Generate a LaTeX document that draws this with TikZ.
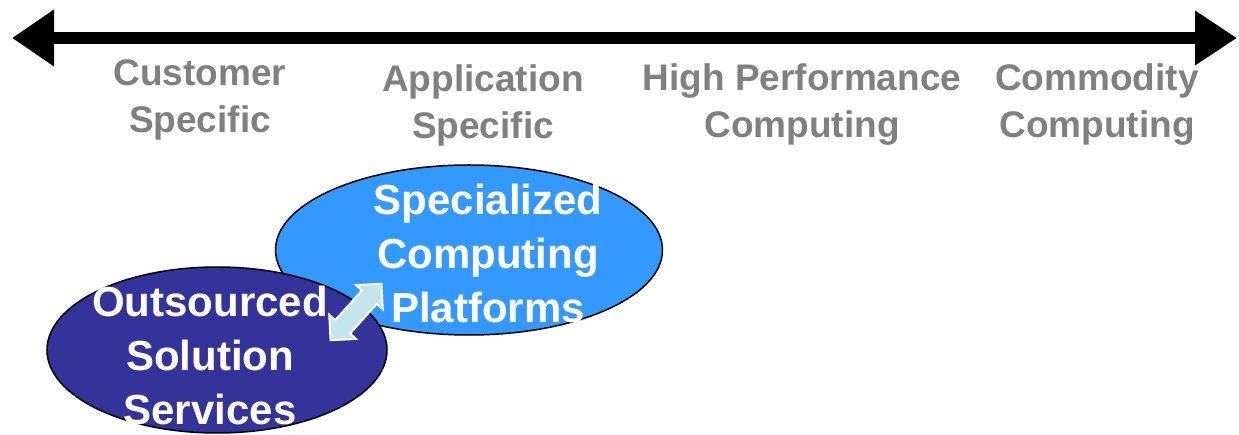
\documentclass[tikz,border=0pt]{standalone}
\usepackage{fontspec}
\setmainfont{Liberation Sans}
\usetikzlibrary{arrows.meta,shapes.geometric,shapes.arrows}
\definecolor{lblue}{HTML}{3399FF}
\definecolor{dblue}{HTML}{333399}
\definecolor{lgray}{HTML}{808080}
\definecolor{pale}{HTML}{C4E4EE}
\tikzset{
  axislabel/.style={text=lgray, font=\fontsize{37}{47}\selectfont\bfseries, align=center},
  bubbletext/.style={text=white, font=\fontsize{42}{54}\selectfont\bfseries, align=center},
  bubble/.style={ellipse, draw=black, line width=1.5pt, inner sep=0pt},
}
\begin{document}
\begin{tikzpicture}[x=1pt,y=-1pt]
\useasboundingbox (0,0) rectangle (1239,435);
\coordinate (L) at (12,38);
\coordinate (R) at (1237,38);
\draw[line width=12pt, {Triangle[length=42pt,width=54pt]}-{Triangle[length=42pt,width=52pt]}] (L) -- (R);

\node[axislabel] (cust) at (200,100) {Customer\\Specific};
\node[axislabel] (app) at (483,105) {Application\\Specific};
\node[axislabel] (hpc) at (802,105) {High Performance\\Computing};
\node[axislabel] (comm) at (1097,105) {Commodity\\Computing};

\node[bubble, fill=lblue, minimum width=387pt, minimum height=170pt] (scp) at (469,250) {};
\node[bubble, fill=dblue, minimum width=340pt, minimum height=166pt] (oss) at (217,350) {};

\node[bubbletext] (scpt) at (488,253) {Specialized\\Computing\\Platforms};
\node[bubbletext] (osst) at (210,355) {Outsourced\\Solution\\Services};

\node[double arrow, rotate=48, minimum height=76pt, inner xsep=2pt, inner ysep=9pt,
      double arrow head extend=8pt, fill=pale, draw=white, line width=2pt] (link) at (356,312) {};
\end{tikzpicture}
\end{document}
